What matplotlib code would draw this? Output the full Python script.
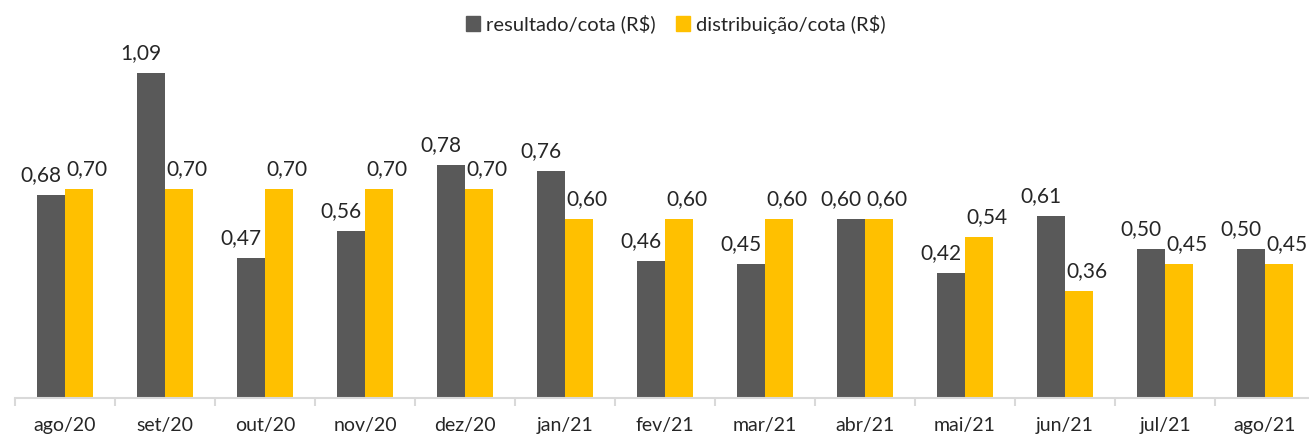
import numpy as np
import matplotlib.pyplot as plt
from matplotlib.patches import Patch

plt.rcParams['font.family'] = ['Lato', 'DejaVu Sans']

meses = ['ago/20', 'set/20', 'out/20', 'nov/20', 'dez/20', 'jan/21', 'fev/21',
         'mar/21', 'abr/21', 'mai/21', 'jun/21', 'jul/21', 'ago/21']
resultado = [0.68, 1.09, 0.47, 0.56, 0.78, 0.76, 0.46, 0.45, 0.60, 0.42, 0.61, 0.50, 0.50]
distribuicao = [0.70, 0.70, 0.70, 0.70, 0.70, 0.60, 0.60, 0.60, 0.60, 0.54, 0.36, 0.45, 0.45]

cinza = '#595959'
amarelo = '#FFC000'
texto = '#262626'

W, H = 1309, 437
fig = plt.figure(figsize=(W / 100, H / 100), dpi=100)
ax = fig.add_axes([15 / W, 39 / H, 1300 / W, 398 / H])

x = np.arange(len(meses))
w = 0.28
ax.bar(x - w / 2, resultado, w, color=cinza)
ax.bar(x + w / 2, distribuicao, w, color=amarelo)

ax.set_xlim(-0.5, len(meses) - 0.5)
ax.set_ylim(0, 1.333)

fmt = lambda v: f'{v:.2f}'.replace('.', ',')
for xi, v in zip(x, resultado):
    ax.annotate(fmt(v), (xi - w / 2, v), xytext=(-7, 7), textcoords='offset points',
                ha='center', va='bottom', fontsize=15, color=texto)
for xi, v in zip(x, distribuicao):
    ax.annotate(fmt(v), (xi + w / 2, v), xytext=(6, 7), textcoords='offset points',
                ha='center', va='bottom', fontsize=15, color=texto)

for s in ['top', 'right', 'left']:
    ax.spines[s].set_visible(False)
ax.spines['bottom'].set_color('#d9d9d9')
ax.spines['bottom'].set_linewidth(1.5)
ax.set_yticks([])
ax.set_xticks(x)
ax.set_xticklabels(meses, fontsize=14, color=texto)
ax.tick_params(axis='x', which='major', length=0, pad=14)
ax.set_xticks(np.arange(-0.5, len(meses) + 0.5, 1), minor=True)
ax.tick_params(axis='x', which='minor', length=6, color='#d9d9d9', width=1.5)

handles = [Patch(color=cinza), Patch(color=amarelo)]
fig.legend(handles, ['resultado/cota (R$)', 'distribuição/cota (R$)'],
           loc='center', bbox_to_anchor=(0.516, 0.945), ncol=2, frameon=False,
           fontsize=14.5, handlelength=0.7, handleheight=0.7, handletextpad=0.3,
           columnspacing=1.0, labelcolor=texto)

fig.savefig('out.png', dpi=100)
